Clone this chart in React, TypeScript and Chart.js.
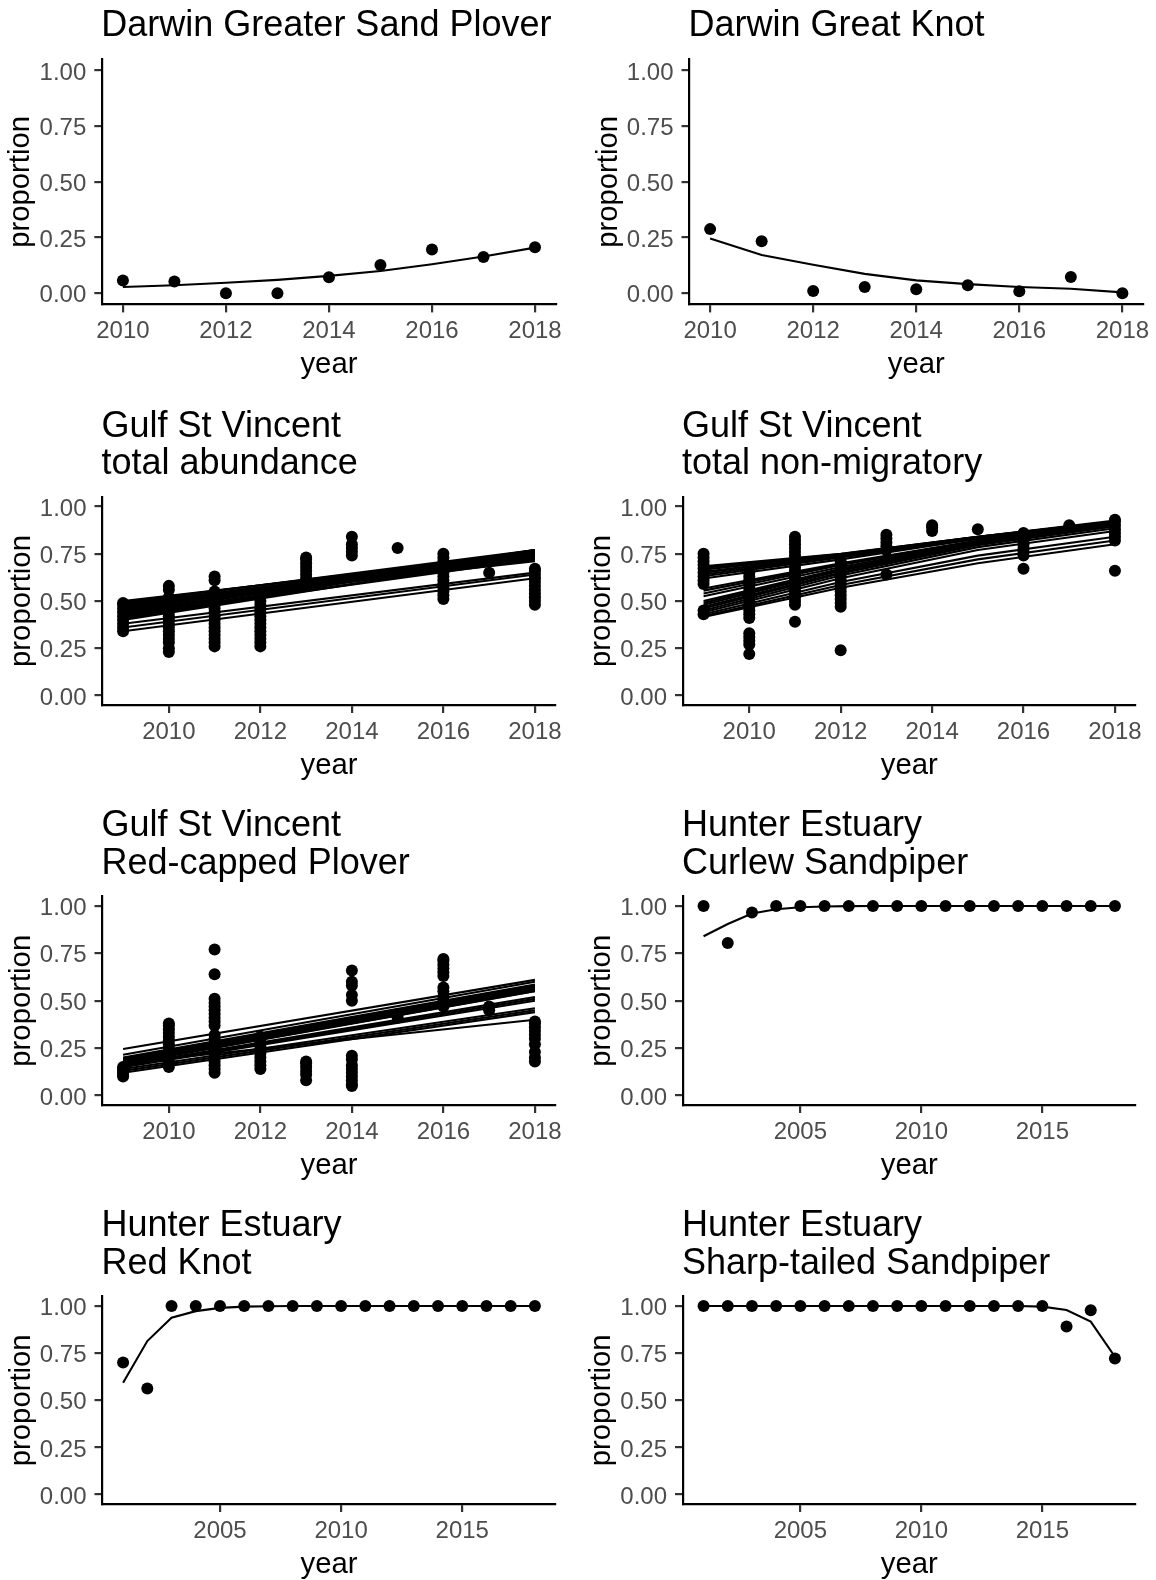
import { useEffect, useRef } from "react";
import { Chart, registerables } from "chart.js";

Chart.register(...registerables);

const FONT = "'Liberation Sans', Arial, Helvetica, sans-serif";

// ---------- Darwin ----------
const darwinYears = [2010, 2011, 2012, 2013, 2014, 2015, 2016, 2017, 2018];
const darwinTicks = [2010, 2012, 2014, 2016, 2018];
const sandPloverObserved = [0.057, 0.053, 0.0, 0.0, 0.072, 0.127, 0.197, 0.163, 0.207];
const sandPloverFitted = [0.028, 0.036, 0.047, 0.06, 0.078, 0.1, 0.13, 0.165, 0.205];
const greatKnotObserved = [0.288, 0.234, 0.01, 0.028, 0.018, 0.036, 0.009, 0.073, 0.0];
const greatKnotFitted = [0.246, 0.172, 0.128, 0.087, 0.058, 0.041, 0.028, 0.02, 0.004];

// ---------- Gulf St Vincent ----------
const gulfYears = [2009, 2010, 2011, 2012, 2013, 2014, 2015, 2016, 2017, 2018];
const gulfTicks = [2010, 2012, 2014, 2016, 2018];

const abundanceObserved = [
  [0.34, 0.36, 0.38, 0.4, 0.42, 0.44, 0.46, 0.48, 0.49],
  [0.23, 0.25, 0.28, 0.3, 0.32, 0.34, 0.36, 0.38, 0.4, 0.42, 0.44, 0.46, 0.48, 0.5, 0.52, 0.56, 0.58],
  [0.26, 0.28, 0.3, 0.32, 0.34, 0.36, 0.38, 0.4, 0.42, 0.44, 0.46, 0.48, 0.5, 0.52, 0.54, 0.55, 0.61, 0.63],
  [0.26, 0.28, 0.3, 0.32, 0.34, 0.36, 0.38, 0.4, 0.42, 0.44, 0.46, 0.48, 0.5],
  [0.58, 0.6, 0.62, 0.64, 0.66, 0.68, 0.7, 0.72, 0.73],
  [0.74, 0.76, 0.78, 0.8, 0.84],
  [0.78],
  [0.51, 0.53, 0.55, 0.57, 0.59, 0.61, 0.63, 0.65, 0.67, 0.69, 0.71, 0.73, 0.75],
  [0.65],
  [0.48, 0.5, 0.52, 0.54, 0.56, 0.58, 0.6, 0.62, 0.64, 0.66, 0.67],
];
const abundanceFitYears = [2009, 2018];
const abundanceFitted = [
  [0.5, 0.75], [0.495, 0.76], [0.49, 0.77], [0.485, 0.745], [0.48, 0.73],
  [0.475, 0.765], [0.47, 0.76], [0.465, 0.75], [0.46, 0.74], [0.455, 0.76],
  [0.45, 0.77], [0.445, 0.735], [0.44, 0.75], [0.435, 0.77], [0.43, 0.76],
  [0.425, 0.745], [0.42, 0.72], [0.415, 0.73], [0.41, 0.77], [0.405, 0.76],
  [0.4, 0.74], [0.47, 0.71], [0.46, 0.72], [0.38, 0.65], [0.36, 0.64], [0.34, 0.62],
];

const nonMigratoryObserved = [
  [0.43, 0.45, 0.59, 0.61, 0.63, 0.65, 0.67, 0.69, 0.71, 0.73, 0.75],
  [0.22, 0.27, 0.29, 0.31, 0.33, 0.41, 0.43, 0.45, 0.47, 0.49, 0.51, 0.53, 0.55, 0.57, 0.59, 0.61, 0.63, 0.65],
  [0.39, 0.48, 0.5, 0.52, 0.54, 0.56, 0.58, 0.6, 0.62, 0.64, 0.66, 0.68, 0.7, 0.72, 0.74, 0.76, 0.78, 0.8, 0.82, 0.84],
  [0.24, 0.47, 0.49, 0.51, 0.53, 0.55, 0.57, 0.59, 0.61, 0.63, 0.65, 0.67, 0.69, 0.71],
  [0.64, 0.77, 0.79, 0.81, 0.83, 0.85],
  [0.87, 0.89, 0.9],
  [0.88],
  [0.67, 0.74, 0.76, 0.78, 0.8, 0.82, 0.84, 0.86],
  [0.9],
  [0.66, 0.82, 0.84, 0.86, 0.88, 0.9, 0.92, 0.93],
];
const nonMigratoryFitYears = [2009, 2012, 2015, 2018];
const nonMigratoryFitted = [
  [0.684, 0.75, 0.84, 0.92],
  [0.675, 0.748, 0.84, 0.925],
  [0.666, 0.745, 0.84, 0.92],
  [0.655, 0.742, 0.838, 0.918],
  [0.649, 0.74, 0.835, 0.915],
  [0.64, 0.735, 0.832, 0.912],
  [0.631, 0.73, 0.83, 0.91],
  [0.619, 0.72, 0.83, 0.915],
  [0.566, 0.7, 0.82, 0.91],
  [0.555, 0.695, 0.818, 0.91],
  [0.54, 0.69, 0.815, 0.905],
  [0.525, 0.68, 0.812, 0.905],
  [0.5, 0.67, 0.81, 0.9],
  [0.49, 0.665, 0.805, 0.9],
  [0.48, 0.66, 0.8, 0.9],
  [0.47, 0.65, 0.8, 0.895],
  [0.46, 0.645, 0.795, 0.895],
  [0.45, 0.635, 0.785, 0.885],
  [0.44, 0.62, 0.77, 0.87],
  [0.43, 0.6, 0.74, 0.84],
  [0.42, 0.585, 0.72, 0.82],
  [0.415, 0.57, 0.7, 0.8],
];

const redCappedObserved = [
  [0.1, 0.11, 0.12, 0.13, 0.14, 0.15],
  [0.15, 0.17, 0.19, 0.21, 0.23, 0.25, 0.27, 0.29, 0.31, 0.33, 0.35, 0.37, 0.38],
  [0.12, 0.14, 0.16, 0.18, 0.2, 0.22, 0.24, 0.26, 0.28, 0.3, 0.32, 0.37, 0.39, 0.41, 0.43, 0.45, 0.47, 0.49, 0.51, 0.64, 0.77],
  [0.14, 0.16, 0.18, 0.2, 0.22, 0.24, 0.26, 0.28, 0.3, 0.31],
  [0.08, 0.11, 0.13, 0.15, 0.17, 0.18],
  [0.05, 0.06, 0.08, 0.1, 0.12, 0.14, 0.16, 0.19, 0.21, 0.5, 0.53, 0.58, 0.6, 0.66],
  [0.41, 0.43],
  [0.47, 0.5, 0.52, 0.55, 0.57, 0.63, 0.65, 0.67, 0.69, 0.71, 0.72],
  [0.45, 0.47],
  [0.18, 0.2, 0.23, 0.27, 0.3, 0.32, 0.34, 0.36, 0.38, 0.39],
];
const redCappedFitYears = [2009, 2018];
const redCappedFitted = [
  [0.245, 0.61], [0.215, 0.6], [0.2, 0.585], [0.195, 0.58], [0.19, 0.575],
  [0.188, 0.572], [0.185, 0.57], [0.182, 0.575], [0.18, 0.565], [0.178, 0.562],
  [0.175, 0.56], [0.172, 0.558], [0.17, 0.555], [0.168, 0.552], [0.165, 0.55],
  [0.16, 0.52], [0.155, 0.51], [0.15, 0.5], [0.14, 0.46], [0.13, 0.45],
  [0.17, 0.4], [0.12, 0.44],
];

// ---------- Hunter Estuary ----------
const hunterYears = [2001, 2002, 2003, 2004, 2005, 2006, 2007, 2008, 2009, 2010, 2011, 2012, 2013, 2014, 2015, 2016, 2017, 2018];
const hunterTicks = [2005, 2010, 2015];
const curlewObserved = [1, 0.805, 0.966, 1, 1, 1, 1, 1, 1, 1, 1, 1, 1, 1, 1, 1, 1, 1];
const curlewFitted = [0.84, 0.905, 0.96, 0.983, 0.993, 0.997, 0.999, 1, 1, 1, 1, 1, 1, 1, 1, 1, 1, 1];
const redKnotObserved = [0.7, 0.563, 1, 1, 1, 1, 1, 1, 1, 1, 1, 1, 1, 1, 1, 1, 1, 1];
const redKnotFitted = [0.593, 0.814, 0.938, 0.973, 0.99, 0.997, 0.999, 1, 1, 1, 1, 1, 1, 1, 1, 1, 1, 1];
const sharpTailedObserved = [1, 1, 1, 1, 1, 1, 1, 1, 1, 1, 1, 1, 1, 1, 1, 0.892, 0.977, 0.722];
const sharpTailedFitted = [1, 1, 1, 1, 1, 1, 1, 1, 1, 1, 1, 1, 1, 1, 0.997, 0.979, 0.917, 0.731];

const yTicks = [0, 0.25, 0.5, 0.75, 1];

// ---------- helpers ----------
type XY = { x: number; y: number };
const series = (years: number[], values: number[]): XY[] => years.map((yr, i) => ({ x: yr, y: values[i] }));
const stacks = (years: number[], values: number[][]): XY[] =>
  years.flatMap((yr, i) => values[i].map((v) => ({ x: yr, y: v })));
const fits = (years: number[], rows: number[][]): XY[][] => rows.map((r) => series(years, r));

// ---------- layout ----------
const Y_AXIS_W = 102;
const X_AXIS_H = 78;
const RIGHT_PAD = 16;
const BOTTOM_PAD = 2;
const TITLE_GAP = 23;
const TITLE_LINE = 37.5;

type Box = { left: number; top: number; right: number; bottom: number };
type PanelSpec = {
  id: string;
  title: string[];
  cellTop: number;
  area: Box;
  xMin: number;
  xMax: number;
  xTicks: number[];
  points: XY[];
  lines: XY[][];
};

const LEFT_COL = { left: 102.5, right: 555.5 };
const RIGHT_COL = { left: 683, right: 1135.5 };

const panels: PanelSpec[] = [
  {
    id: "gsp", title: ["Darwin Greater Sand Plover"], cellTop: 0,
    area: { left: 102.3, right: 555.6, top: 59.4, bottom: 304.4 },
    xMin: 2009.6, xMax: 2018.4, xTicks: darwinTicks,
    points: series(darwinYears, sandPloverObserved),
    lines: [series(darwinYears, sandPloverFitted)],
  },
  {
    id: "gk", title: ["Darwin Great Knot"], cellTop: 0,
    area: { left: 689.5, right: 1143, top: 59.4, bottom: 304.4 },
    xMin: 2009.6, xMax: 2018.4, xTicks: darwinTicks,
    points: series(darwinYears, greatKnotObserved),
    lines: [series(darwinYears, greatKnotFitted)],
  },
  {
    id: "abund", title: ["Gulf St Vincent", "total abundance"], cellTop: 395,
    area: { ...LEFT_COL, top: 497, bottom: 705 },
    xMin: 2008.55, xMax: 2018.45, xTicks: gulfTicks,
    points: stacks(gulfYears, abundanceObserved),
    lines: fits(abundanceFitYears, abundanceFitted),
  },
  {
    id: "nonmig", title: ["Gulf St Vincent", "total non-migratory"], cellTop: 395,
    area: { ...RIGHT_COL, top: 497, bottom: 705 },
    xMin: 2008.55, xMax: 2018.45, xTicks: gulfTicks,
    points: stacks(gulfYears, nonMigratoryObserved),
    lines: fits(nonMigratoryFitYears, nonMigratoryFitted),
  },
  {
    id: "rcp", title: ["Gulf St Vincent", "Red-capped Plover"], cellTop: 795,
    area: { ...LEFT_COL, top: 896.5, bottom: 1105 },
    xMin: 2008.55, xMax: 2018.45, xTicks: gulfTicks,
    points: stacks(gulfYears, redCappedObserved),
    lines: fits(redCappedFitYears, redCappedFitted),
  },
  {
    id: "cs", title: ["Hunter Estuary", "Curlew Sandpiper"], cellTop: 795,
    area: { ...RIGHT_COL, top: 896.5, bottom: 1105 },
    xMin: 2000.15, xMax: 2018.85, xTicks: hunterTicks,
    points: series(hunterYears, curlewObserved),
    lines: [series(hunterYears, curlewFitted)],
  },
  {
    id: "rk", title: ["Hunter Estuary", "Red Knot"], cellTop: 1195,
    area: { ...LEFT_COL, top: 1296.6, bottom: 1504 },
    xMin: 2000.15, xMax: 2018.85, xTicks: hunterTicks,
    points: series(hunterYears, redKnotObserved),
    lines: [series(hunterYears, redKnotFitted)],
  },
  {
    id: "sts", title: ["Hunter Estuary", "Sharp-tailed Sandpiper"], cellTop: 1195,
    area: { ...RIGHT_COL, top: 1296.6, bottom: 1504 },
    xMin: 2000.15, xMax: 2018.85, xTicks: hunterTicks,
    points: series(hunterYears, sharpTailedObserved),
    lines: [series(hunterYears, sharpTailedFitted)],
  },
];

const panelTitle = (lines: string[]) => ({
  id: "panelTitle",
  afterDraw(chart: any) {
    const { ctx, chartArea } = chart;
    ctx.save();
    ctx.font = `36px ${FONT}`;
    ctx.fillStyle = "#000";
    ctx.textAlign = "left";
    ctx.textBaseline = "alphabetic";
    lines.forEach((line, i) => {
      ctx.fillText(line, chartArea.left - 1, chartArea.top - TITLE_GAP - (lines.length - 1 - i) * TITLE_LINE);
    });
    ctx.restore();
  },
});

const axisCommon = {
  grid: {
    display: true,
    drawOnChartArea: false,
    drawTicks: true,
    tickLength: 8,
    color: "#333333",
    tickColor: "#333333",
    lineWidth: 2.2,
  },
  border: { display: true, color: "#000000", width: 2.2 },
};

function Panel({ spec }: { spec: PanelSpec }) {
  const ref = useRef<HTMLCanvasElement | null>(null);
  const left = Math.round(spec.area.left - Y_AXIS_W);
  const top = spec.cellTop;
  const width = Math.round(spec.area.right + RIGHT_PAD - left);
  const height = Math.round(spec.area.bottom + X_AXIS_H + BOTTOM_PAD - top);

  useEffect(() => {
    if (!ref.current) return;
    const yW = spec.area.left - left;
    const padTop = spec.area.top - top;
    const padRight = left + width - spec.area.right;
    const padBottom = top + height - spec.area.bottom - X_AXIS_H;

    const chart = new Chart(ref.current, {
      type: "scatter",
      data: {
        datasets: [
          ...spec.lines.map((d) => ({
            data: d,
            showLine: true,
            borderColor: "#000",
            borderWidth: 2.1,
            pointRadius: 0,
            fill: false,
            tension: 0,
          })),
          {
            data: spec.points,
            showLine: false,
            pointRadius: 6,
            pointBackgroundColor: "#000",
            pointBorderWidth: 0,
            backgroundColor: "#000",
            borderColor: "#000",
          },
        ],
      },
      options: {
        animation: false,
        responsive: false,
        devicePixelRatio: 1,
        events: [],
        layout: { padding: { left: 0, top: padTop, right: padRight, bottom: padBottom } },
        plugins: { legend: { display: false }, tooltip: { enabled: false }, title: { display: false } },
        scales: {
          x: {
            type: "linear",
            min: spec.xMin,
            max: spec.xMax,
            ...axisCommon,
            afterFit: (s: any) => { s.height = X_AXIS_H; },
            afterBuildTicks: (s: any) => { s.ticks = spec.xTicks.map((v) => ({ value: v })); },
            ticks: {
              font: { family: FONT, size: 24 },
              color: "#4D4D4D",
              padding: 5,
              maxRotation: 0,
              autoSkip: false,
              callback: (v: any) => String(v),
            },
            title: {
              display: true,
              text: "year",
              color: "#000",
              font: { family: FONT, size: 29.3, lineHeight: 1.2 },
              padding: { top: 0, bottom: 0 },
            },
          },
          y: {
            type: "linear",
            min: -0.05,
            max: 1.05,
            ...axisCommon,
            afterFit: (s: any) => { s.width = yW; },
            afterBuildTicks: (s: any) => { s.ticks = yTicks.map((v) => ({ value: v })); },
            ticks: {
              font: { family: FONT, size: 24 },
              color: "#4D4D4D",
              padding: 8,
              labelOffset: 2.5,
              autoSkip: false,
              callback: (v: any) => Number(v).toFixed(2),
            },
            title: {
              display: true,
              text: "proportion",
              color: "#000",
              font: { family: FONT, size: 29.3, lineHeight: 1.2 },
              padding: { top: 3.5, bottom: 0 },
            },
          },
        },
      },
      plugins: [panelTitle(spec.title)],
    } as any);
    return () => chart.destroy();
  }, []);

  return (
    <canvas
      ref={ref}
      width={width}
      height={height}
      style={{ position: "absolute", left, top, width, height, display: "block" }}
    />
  );
}

export default function App() {
  return (
    <div style={{ position: "absolute", left: 0, top: 0, width: 1156, height: 1580, background: "#fff", overflow: "hidden" }}>
      {panels.map((p) => (
        <Panel key={p.id} spec={p} />
      ))}
    </div>
  );
}
